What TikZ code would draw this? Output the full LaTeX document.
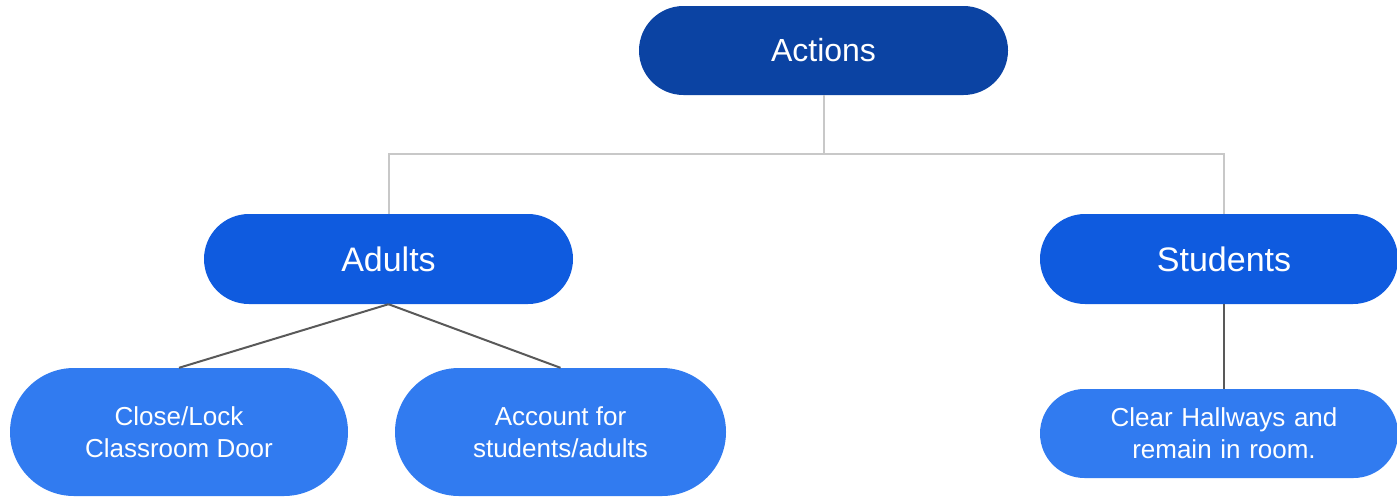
\documentclass[tikz,border=0pt]{standalone}
\usepackage{fontspec}
\setmainfont{Liberation Sans}
\usetikzlibrary{calc}
\definecolor{cdark}{HTML}{0B43A3}
\definecolor{cmid}{HTML}{0F5BDF}
\definecolor{clight}{HTML}{317BF0}
\definecolor{lgray}{HTML}{C8C8C8}
\definecolor{dgray}{HTML}{595959}
\tikzset{
  pill/.style={rectangle, draw=none, text=white, align=center, inner sep=0pt},
  topbox/.style={pill, fill=cdark, minimum width=369pt, minimum height=89pt, rounded corners=44.5pt, font=\fontsize{32}{38}\selectfont},
  midbox/.style={pill, fill=cmid, minimum height=90pt, rounded corners=45pt, font=\fontsize{34}{40}\selectfont},
  leafbox/.style={pill, fill=clight, font=\fontsize{26}{32}\selectfont},
  lightline/.style={draw=lgray, line width=2pt},
  darkline/.style={draw=dgray, line width=2pt},
}
\begin{document}
\begin{tikzpicture}[x=1pt,y=-1pt]
\useasboundingbox (0,0) rectangle (1397,496);
\node[topbox] (actions) at (823.5,50.5) {Actions};
\node[midbox, minimum width=369pt] (adults) at (388.5,259) {Adults};
\node[midbox, minimum width=358pt, text width=358pt] (students) at (1219,259) {\hspace*{10pt}Students};
\node[leafbox, minimum width=338pt, minimum height=128pt, rounded corners=64pt] (close) at (179,432) {\raisebox{-2pt}{Close/Lock}\\\raisebox{-2pt}{Classroom Door}};
\node[leafbox, minimum width=331pt, minimum height=128pt, rounded corners=64pt] (account) at (560.5,432) {\raisebox{-2pt}{Account for}\\\raisebox{-2pt}{students/adults}};
\node[leafbox, minimum width=358pt, text width=358pt, minimum height=89pt, rounded corners=44.5pt] (clear) at (1219,433.5) {\hspace*{10pt}Clear Hallways and\\\hspace*{10pt}remain in room.};
\coordinate (j) at (823.5,154);
\coordinate (sn) at ($(students.north)+(5,0)$);
\coordinate (ss) at ($(students.south)+(5,0)$);
\coordinate (cn) at ($(clear.north)+(5,0)$);
\draw[lightline] (actions.south) -- (j);
\draw[lightline] (j) -| (adults.north);
\draw[lightline] (j) -| (sn);
\draw[darkline] (adults.south) -- (close.north);
\draw[darkline] (adults.south) -- (account.north);
\draw[darkline] (ss) -- (cn);
\end{tikzpicture}
\end{document}
